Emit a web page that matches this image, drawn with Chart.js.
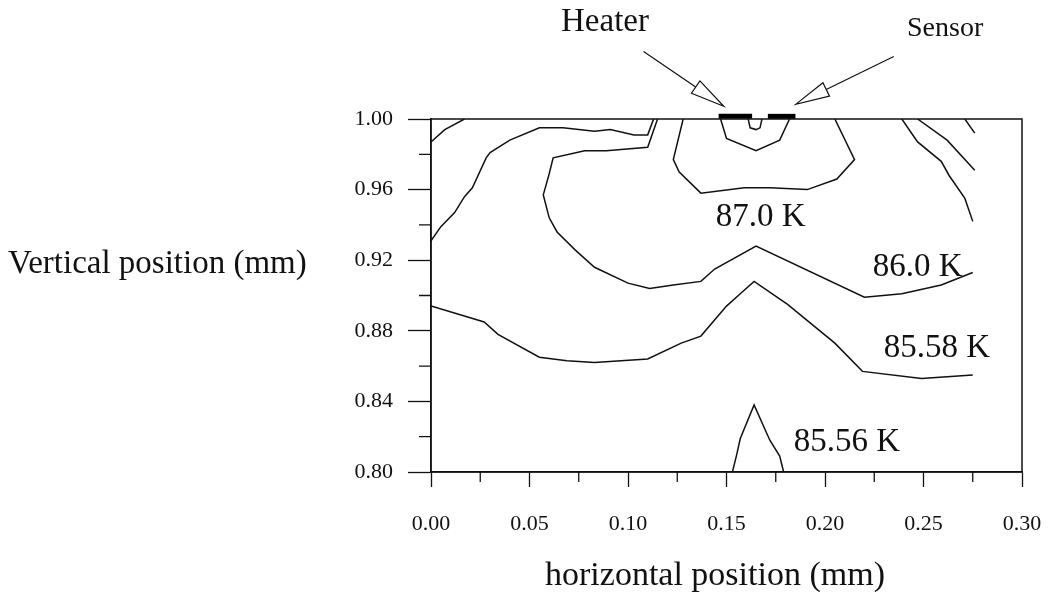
<!DOCTYPE html>
<html>
<head>
<meta charset="utf-8">
<script src="https://cdn.jsdelivr.net/npm/chart.js@4.4.1/dist/chart.umd.min.js"></script>
<style>
  html, body { margin: 0; padding: 0; background: #fff; }
  #wrap { width: 1051px; height: 601px; position: relative; }
</style>
</head>
<body>
<div id="wrap"><canvas id="contours"></canvas></div>
<script>
// Temperature contours near the heater / sensor pair (positions in mm)

const xMajor = [0.00, 0.05, 0.10, 0.15, 0.20, 0.25, 0.30];
const xMinor = [0.025, 0.075, 0.125, 0.175, 0.225, 0.275];
const yMajor = [0.80, 0.84, 0.88, 0.92, 0.96, 1.00];
const yMinor = [0.82, 0.86, 0.90, 0.94, 0.98];

// contour traces
const cornerX = [0.000, 0.007, 0.017];
const cornerY = [0.987, 0.994, 1.000];

const outerLeftX = [0.000, 0.005, 0.012, 0.017, 0.021, 0.028, 0.030, 0.040, 0.055, 0.067, 0.083, 0.091, 0.103, 0.110, 0.113];
const outerLeftY = [0.931, 0.939, 0.947, 0.956, 0.961, 0.978, 0.981, 0.988, 0.995, 0.995, 0.993, 0.994, 0.991, 0.991, 1.000];

const k860X = [0.115, 0.110, 0.089, 0.078, 0.062, 0.060, 0.057, 0.060, 0.064, 0.073, 0.083, 0.100, 0.111, 0.123, 0.137, 0.144, 0.165, 0.220, 0.239, 0.259, 0.275];
const k860Y = [1.000, 0.984, 0.982, 0.982, 0.978, 0.969, 0.957, 0.944, 0.936, 0.926, 0.916, 0.907, 0.904, 0.906, 0.908, 0.915, 0.928, 0.899, 0.901, 0.906, 0.913];

const k870X = [0.128, 0.123, 0.126, 0.137, 0.159, 0.172, 0.191, 0.206, 0.215, 0.205];
const k870Y = [1.000, 0.977, 0.970, 0.958, 0.961, 0.961, 0.960, 0.966, 0.977, 1.000];

const coreX = [0.147, 0.150, 0.165, 0.177, 0.182];
const coreY = [1.000, 0.989, 0.982, 0.988, 1.000];

const dipX = [0.161, 0.162, 0.165, 0.167, 0.168];
const dipY = [1.000, 0.995, 0.994, 0.995, 1.000];

const right1X = [0.239, 0.247, 0.259, 0.263, 0.271, 0.275];
const right1Y = [1.000, 0.987, 0.976, 0.968, 0.955, 0.942];
const right2X = [0.247, 0.262, 0.276];
const right2Y = [1.000, 0.988, 0.971];
const right3X = [0.271, 0.276];
const right3Y = [1.000, 0.992];

const k8558X = [0.000, 0.027, 0.034, 0.055, 0.069, 0.083, 0.110, 0.127, 0.137, 0.150, 0.157, 0.164, 0.181, 0.205, 0.219, 0.249, 0.275];
const k8558Y = [0.894, 0.885, 0.878, 0.865, 0.863, 0.862, 0.864, 0.873, 0.877, 0.894, 0.901, 0.908, 0.895, 0.873, 0.857, 0.853, 0.855];

const k8556X = [0.153, 0.155, 0.157, 0.164, 0.172, 0.177, 0.179];
const k8556Y = [0.800, 0.809, 0.819, 0.838, 0.818, 0.809, 0.800];

// heater and sensor strips on the top surface
const heaterX = [0.146, 0.163];
const sensorX = [0.171, 0.185];
const stripY = 1.0015;

const contourNames = ['87.0 K', '86.0 K', '85.58 K', '85.56 K'];

// label anchors (data units, left edge / vertical middle)
const labelAt = [
  { x: 0.1445, y: 0.9445 },
  { x: 0.2242, y: 0.9162 },
  { x: 0.2298, y: 0.8699 },
  { x: 0.1841, y: 0.8168 }
];
const arrows = [
  { text: 'Heater', tail: { x: 0.1079, y: 1.0383 }, tip: { x: 0.1486, y: 1.0072 } },
  { text: 'Sensor', tail: { x: 0.2349, y: 1.0354 }, tip: { x: 0.1851, y: 1.0083 } }
];

const SERIF = '"Liberation Serif", "Times New Roman", serif';
const INK = '#111';

function pts(xs, ys) {
  return xs.map((x, i) => ({ x, y: ys[i] }));
}

function trace(xs, ys) {
  return {
    data: pts(xs, ys),
    showLine: true,
    borderColor: INK,
    borderWidth: 1.5,
    pointRadius: 0,
    tension: 0,
    fill: false
  };
}

function strip(xs) {
  return {
    data: xs.map(x => ({ x, y: stripY })),
    showLine: true,
    borderColor: '#000',
    borderWidth: 5,
    pointRadius: 0,
    borderCapStyle: 'butt',
    clip: false
  };
}

const datasets = [
  trace(cornerX, cornerY),
  trace(outerLeftX, outerLeftY),
  trace(k860X, k860Y),
  trace(k870X, k870Y),
  trace(coreX, coreY),
  trace(dipX, dipY),
  trace(right1X, right1Y),
  trace(right2X, right2Y),
  trace(right3X, right3Y),
  trace(k8558X, k8558Y),
  trace(k8556X, k8556Y),
  strip(heaterX),
  strip(sensorX)
];

function drawArrow(ctx, x0, y0, x1, y1) {
  const dx = x1 - x0, dy = y1 - y0;
  const len = Math.hypot(dx, dy);
  const ux = dx / len, uy = dy / len;
  const headLen = 34, half = 7.5;
  const bx = x1 - ux * headLen, by = y1 - uy * headLen;
  ctx.beginPath();
  ctx.moveTo(x0, y0);
  ctx.lineTo(bx, by);
  ctx.stroke();
  ctx.beginPath();
  ctx.moveTo(x1, y1);
  ctx.lineTo(bx - uy * half, by + ux * half);
  ctx.lineTo(bx + uy * half, by - ux * half);
  ctx.closePath();
  ctx.fillStyle = '#fff';
  ctx.fill();
  ctx.stroke();
}

const decorations = {
  id: 'decorations',
  afterDraw(chart) {
    const { ctx, chartArea: a, scales: { x, y } } = chart;
    ctx.save();
    ctx.strokeStyle = INK;
    ctx.lineWidth = 1.5;
    ctx.strokeRect(a.left, a.top, a.right - a.left, a.bottom - a.top);

    // minor ticks
    ctx.lineWidth = 1.3;
    ctx.beginPath();
    xMinor.forEach(v => {
      const px = x.getPixelForValue(v);
      ctx.moveTo(px, a.bottom);
      ctx.lineTo(px, a.bottom + 10);
    });
    yMinor.forEach(v => {
      const py = y.getPixelForValue(v);
      ctx.moveTo(a.left, py);
      ctx.lineTo(a.left - 12, py);
    });
    ctx.stroke();

    // contour values
    ctx.fillStyle = INK;
    ctx.font = '33px ' + SERIF;
    ctx.textBaseline = 'middle';
    ctx.textAlign = 'left';
    contourNames.forEach((t, i) => {
      ctx.fillText(t, x.getPixelForValue(labelAt[i].x), y.getPixelForValue(labelAt[i].y));
    });

    // heater / sensor callouts
    ctx.lineWidth = 1.2;
    arrows.forEach(ar => {
      drawArrow(ctx,
        x.getPixelForValue(ar.tail.x), y.getPixelForValue(ar.tail.y),
        x.getPixelForValue(ar.tip.x), y.getPixelForValue(ar.tip.y));
    });
    ctx.fillStyle = INK;
    ctx.font = '33px ' + SERIF;
    ctx.textAlign = 'center';
    ctx.fillText(arrows[0].text, 605, 22);
    ctx.font = '28px ' + SERIF;
    ctx.textAlign = 'left';
    ctx.fillText(arrows[1].text, 907, 29);

    // axis titles
    ctx.font = '33px ' + SERIF;
    ctx.textAlign = 'left';
    ctx.fillText('Vertical position (mm)', 8, 264);
    ctx.font = '34px ' + SERIF;
    ctx.textAlign = 'center';
    ctx.fillText('horizontal position (mm)', 715, 576);
    ctx.restore();
  }
};

new Chart(document.getElementById('contours'), {
  type: 'scatter',
  data: { datasets },
  options: {
    responsive: true,
    maintainAspectRatio: false,
    animation: false,
    layout: { padding: { left: 0, top: 119, right: 29, bottom: 0 } },
    plugins: { legend: { display: false }, tooltip: { enabled: false } },
    scales: {
      x: {
        type: 'linear',
        min: 0,
        max: 0.30,
        afterBuildTicks: s => { s.ticks = xMajor.map(v => ({ value: v })); },
        afterFit: s => {
          s.height = 129;
          // keep the end labels from widening the side margins
          s.paddingLeft = 0;
          s.paddingRight = 0;
        },
        ticks: {
          callback: v => Number(v).toFixed(2),
          font: { family: SERIF, size: 22 },
          color: INK,
          padding: 24,
          maxRotation: 0
        },
        grid: { drawOnChartArea: false, tickLength: 15, tickColor: INK, tickWidth: 1.3 },
        border: { display: true, color: INK, width: 1.5 }
      },
      y: {
        type: 'linear',
        min: 0.80,
        max: 1.00,
        afterBuildTicks: s => { s.ticks = yMajor.map(v => ({ value: v })); },
        afterFit: s => { s.width = 431; },
        ticks: {
          callback: v => Number(v).toFixed(2),
          font: { family: SERIF, size: 22 },
          color: INK,
          padding: 15
        },
        grid: { drawOnChartArea: false, tickLength: 23, tickColor: INK, tickWidth: 1.3 },
        border: { display: true, color: INK, width: 1.5 }
      }
    }
  },
  plugins: [decorations]
});
</script>
</body>
</html>
